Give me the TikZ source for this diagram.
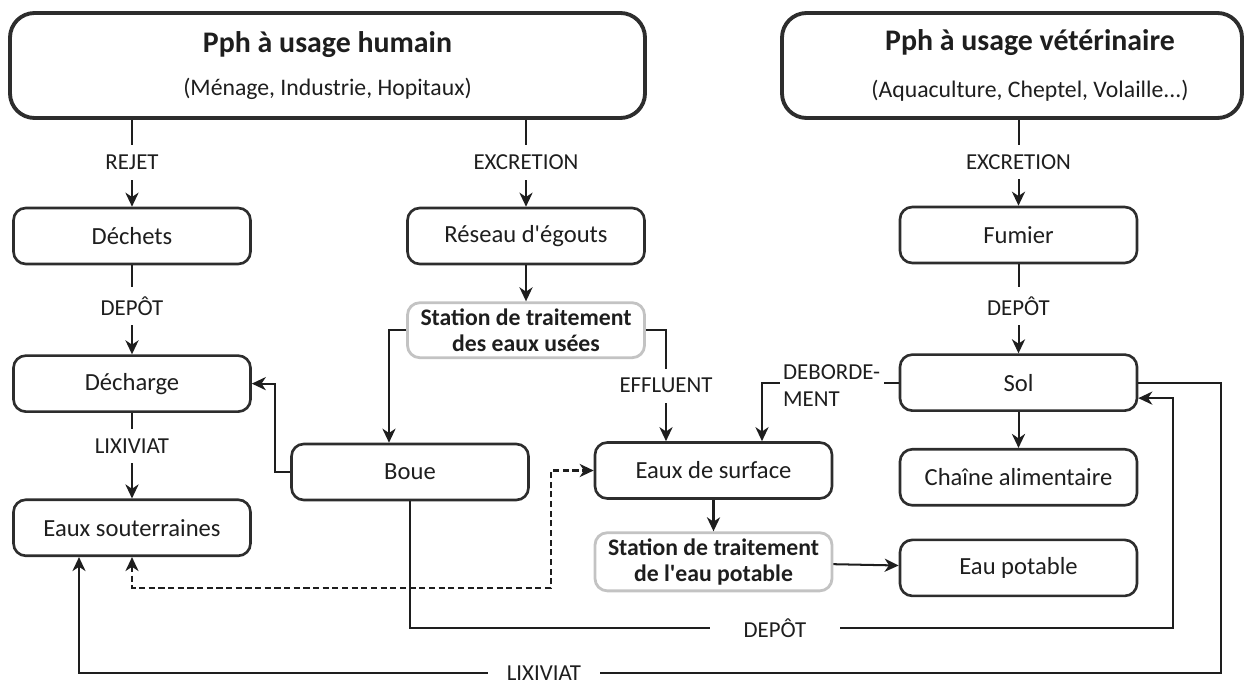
\documentclass[tikz,border=0pt]{standalone}
\usepackage{fontspec}
\setmainfont{Carlito}
\usepackage{xcolor}
\usetikzlibrary{positioning, arrows.meta}
\definecolor{border}{RGB}{45,45,45}
\definecolor{stationgray}{RGB}{195,195,195}
\definecolor{ink}{RGB}{30,30,30}

\begin{document}
\begin{tikzpicture}[>={Stealth[length=8pt, width=7.5pt, inset=2.5pt]}]
	\tikzstyle{source} = [draw=border, line width=2.2pt, rounded corners=14pt, minimum height=2.1cm, align=center, text=ink, font=\fontsize{13.5}{16}\selectfont]
	\tikzstyle{box} = [draw=border, line width=1.5pt, rounded corners=7pt, minimum width=4.74cm, minimum height=1.12cm, text=ink, font=\fontsize{14}{16}\selectfont]
	\tikzstyle{station} = [draw=stationgray, line width=1.6pt, rounded corners=7pt, minimum width=4.74cm, align=center, text=ink, font=\bfseries\fontsize{13.5}{14.8}\selectfont]
	\tikzstyle{lbl} = [fill=white, text=ink, inner xsep=3pt, inner ysep=5.5pt, font=\fontsize{13}{15.4}\selectfont]
	\tikzstyle{edge} = [draw=ink, line width=1.15pt, ->]

	\useasboundingbox (0,0) rectangle (24.94,-13.72);

	\node (humain) [source, minimum width=12.7cm] at (6.55,-1.31)
		{{\fontsize{17}{20}\selectfont\bfseries Pph à usage humain}\\[8pt](Ménage, Industrie, Hopitaux)};
	\node (veto) [source, minimum width=9.2cm] at (20.24,-1.31)
		{\hspace*{0.72cm}{\fontsize{17}{20}\selectfont\bfseries Pph à usage vétérinaire}\\[10.7pt]\hspace*{0.72cm}(Aquaculture, Cheptel, Volaille...)};

	\node (dechets) [box] at (2.64,-4.72) {Déchets};
	\node (decharge) [box, below=1.78cm of dechets] {Décharge};
	\node (souterr) [box, below=1.71cm of decharge] {Eaux souterraines};

	\node (reseau) [box] at (10.52,-4.72) {Réseau d\textquotesingle égouts};
	\node (stepu) [station, minimum height=1.1cm, below=0.72cm of reseau] {Station de traitement\\des eaux usées};
	\node (boue) [box] at (8.2,-9.44) {Boue};
	\node (surface) [box] at (14.27,-9.41) {Eaux de surface};
	\node (stepp) [station, minimum height=1.14cm, below=0.63cm of surface] {Station de traitement\\de l\textquotesingle eau potable};

	\node (fumier) [box] at (20.37,-4.7) {Fumier};
	\node (sol) [box, below=1.78cm of fumier] {Sol};
	\node (chaine) [box, below=0.72cm of sol] {Chaîne alimentaire};
	\node (potable) [box, below=0.64cm of chaine] {Eau potable};

	\coordinate (dashcorner) at (11.02,-11.76);
	\coordinate (depcorner) at (23.46,-12.56);
	\coordinate (lixcorner) at (24.42,-13.46);

	\draw[edge] (humain.south -| dechets.north) -- (dechets.north) node[lbl, pos=0.49] {REJET};
	\draw[edge] (dechets) -- (decharge) node[lbl, pos=0.46] {DEPÔT};
	\draw[edge] (decharge) -- (souterr) node[lbl, pos=0.39] {LIXIVIAT};
	\draw[edge] (humain.south -| reseau.north) -- (reseau.north) node[lbl, pos=0.49] {EXCRETION};
	\draw[edge] (reseau) -- (stepu);
	\draw[edge] (stepu.west) -| ([xshift=-0.42cm]boue.north);
	\draw[edge] (stepu.east) -| ([xshift=-0.95cm]surface.north) node[lbl, pos=0.75] {EFFLUENT};
	\draw[edge] (boue.west) -- ++(-0.3,0) |- (decharge.east);
	\draw[edge] (veto.south -| fumier.north) -- (fumier.north) node[lbl, pos=0.49] {EXCRETION};
	\draw[edge] (fumier) -- (sol) node[lbl, pos=0.47] {DEPÔT};
	\draw[edge] (sol) -- (chaine);
	\draw[edge] (sol.west) -| ([xshift=0.97cm]surface.north) node[lbl, pos=0.245, inner xsep=2pt, inner ysep=1pt, align=left, yshift=-0.06cm] {DEBORDE-\\MENT};
	\draw[edge] (surface) -- (stepp);
	\draw[edge] (stepp) -- (potable);
	\draw[edge, <->, dash pattern=on 3.5pt off 2pt] (souterr.south) |- (dashcorner) |- (surface.west);
	\draw[edge] (boue.south) |- (depcorner) |- ([yshift=-0.31cm]sol.east);
	\draw[edge] (sol.east) -| (lixcorner) -| ([xshift=-1.06cm]souterr.south);
	\node (deplbl) [lbl, inner xsep=19pt] at (15.5,-12.56) {DEPÔT};
	\node (lixlbl) [lbl, inner xsep=11pt, inner ysep=1pt] at (10.88,-13.46) {LIXIVIAT};
\end{tikzpicture}
\end{document}
